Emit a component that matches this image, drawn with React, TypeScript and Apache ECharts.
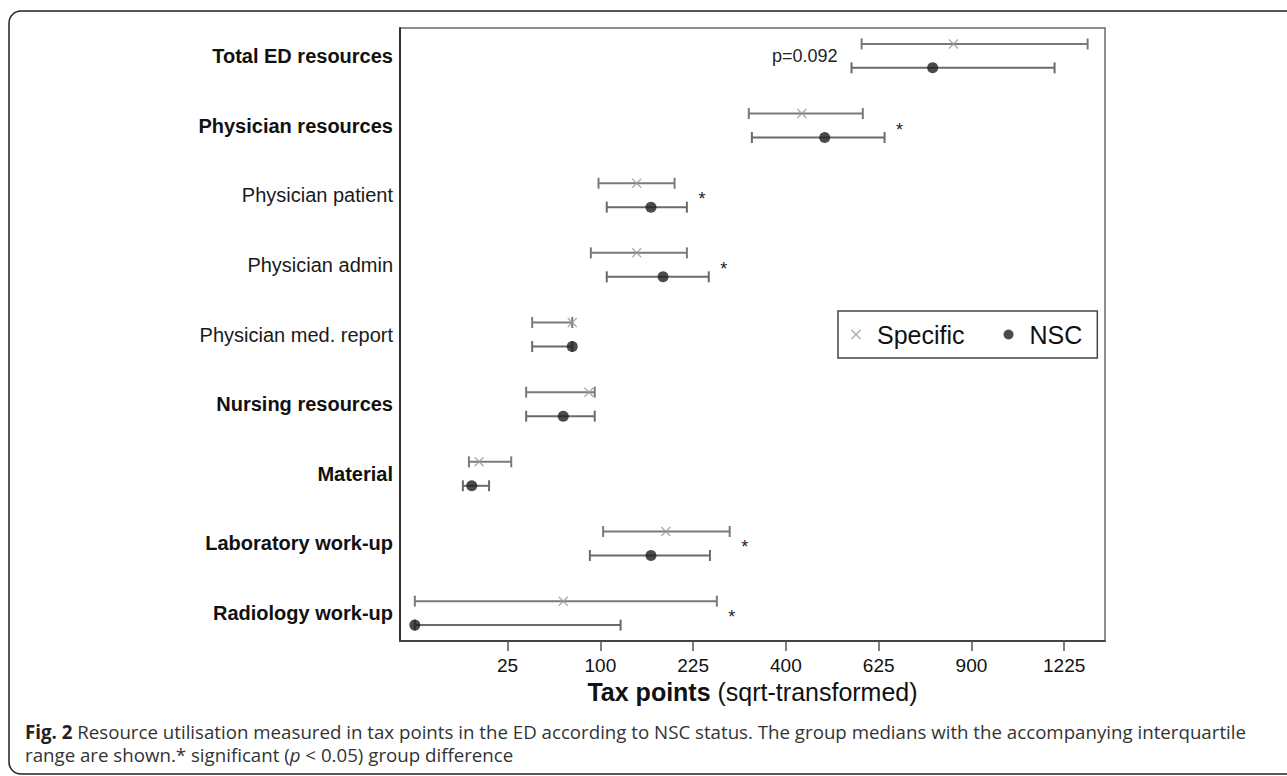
import React, { useEffect, useRef } from 'react';
import * as echarts from 'echarts';

// ---- data (tax points, untransformed) ----
const categories = [
  'Total ED resources',
  'Physician resources',
  'Physician patient',
  'Physician admin',
  'Physician med. report',
  'Nursing resources',
  'Material',
  'Laboratory work-up',
  'Radiology work-up',
];
const boldRows = [true, true, false, false, false, true, true, true, true];

const specificLow = [580, 324, 98, 90, 40, 36, 8.5, 103, 0];
const specificMedian = [843, 435, 143, 143, 72, 88, 12, 183, 64];
const specificHigh = [1315, 583, 196, 215, 72, 94, 27, 288, 265];

const nscLow = [554, 330, 107, 107, 40, 36, 6.7, 89, 0];
const nscMedian = [779, 488, 162, 179, 72, 64, 9.4, 162, 0];
const nscHigh = [1189, 641, 215, 251, 72, 94, 16, 253, 123];

const annotations = ['p=0.092', '*', '*', '*', '', '', '', '*', '*'];

const tickLabels = [25, 100, 225, 400, 625, 900, 1225];

const legendNames = ['Specific', 'NSC'];

const captionLine1 =
  'Resource utilisation measured in tax points in the ED according to NSC status. The group medians with the accompanying interquartile';
const captionLine2a = 'range are shown.* significant (';
const captionLine2b = ' < 0.05) group difference';

// ---- styling ----
const FONT = '"Liberation Sans", Arial, sans-serif';
const CAP_FONT = '"Open Sans", "Noto Sans", sans-serif';
const CAP_SIZE = 18.7;
const CAP_LH = 20;
const ROW_OFFSET = 0.172;
const X_SYMBOL =
  'path://M0,1 L1,0 L5,4 L9,0 L10,1 L6,5 L10,9 L9,10 L5,6 L1,10 L0,9 L4,5 Z';

const sq = (v: number) => Math.sqrt(v);

function barSeries(name: string, lo: number[], hi: number[], off: number, color: string) {
  return {
    type: 'custom',
    name,
    silent: true,
    z: 2,
    encode: { x: [0, 1], y: 2 },
    data: categories.map((_, i) => [sq(lo[i]), sq(hi[i]), i + 1 + off]),
    renderItem: (params: any, api: any) => {
      const a = api.coord([api.value(0), api.value(2)]);
      const b = api.coord([api.value(1), api.value(2)]);
      const h = 5.5;
      const st = { stroke: color, lineWidth: 2 };
      return {
        type: 'group',
        children: [
          { type: 'line', shape: { x1: a[0], y1: a[1], x2: b[0], y2: b[1] }, style: st },
          { type: 'line', shape: { x1: a[0], y1: a[1] - h, x2: a[0], y2: a[1] + h }, style: st },
          { type: 'line', shape: { x1: b[0], y1: b[1] - h, x2: b[0], y2: b[1] + h }, style: st },
        ],
      };
    },
  };
}

export default function App() {
  const ref = useRef<HTMLDivElement>(null);

  useEffect(() => {
    if (!ref.current) return;
    const chart = echarts.init(ref.current, null, { renderer: 'svg' });

    const option: any = {
      animation: false,
      backgroundColor: '#ffffff',
      grid: {
        left: 400,
        right: 182,
        top: 28,
        bottom: 135,
        show: true,
        borderColor: '#6a6a6a',
        borderWidth: 1.5,
        outerBoundsMode: 'none',
      },
      legend: {
        data: legendNames,
        left: 838,
        top: 311,
        orient: 'horizontal',
        padding: [11, 15, 11, 13],
        itemWidth: 32,
        itemHeight: 10,
        itemGap: 39,
        borderColor: '#444',
        borderWidth: 1.5,
        selectedMode: false,
        textStyle: { fontSize: 25, color: '#111', fontFamily: FONT },
      },
      xAxis: {
        type: 'value',
        min: -0.8,
        max: 37.2,
        splitLine: { show: false },
        axisLine: { show: true, onZero: false, lineStyle: { color: '#444', width: 2 } },
        axisTick: {
          show: true,
          customValues: tickLabels.map(sq),
          length: 10,
          lineStyle: { color: '#555', width: 1.5 },
        },
        axisLabel: {
          customValues: tickLabels.map(sq),
          formatter: (v: number) => String(Math.round(v * v)),
          fontSize: 19,
          color: '#111',
          fontFamily: FONT,
          margin: 15,
        },
        name: '{b|Tax points} {n|(sqrt-transformed)}',
        nameLocation: 'middle',
        nameGap: 35,
        nameTextStyle: {
          fontSize: 25,
          color: '#111',
          fontFamily: FONT,
          rich: {
            b: { fontSize: 25, fontWeight: 'bold', fontFamily: FONT, color: '#111' },
            n: { fontSize: 25, fontFamily: FONT, color: '#111' },
          },
        },
      },
      yAxis: {
        type: 'value',
        inverse: true,
        min: 0.6,
        max: 9.4,
        splitLine: { show: false },
        axisLine: { show: true, onZero: false, lineStyle: { color: '#333', width: 2 } },
        axisTick: { show: false },
        axisLabel: {
          customValues: categories.map((_, i) => i + 1),
          formatter: (v: number) => {
            const i = Math.round(v) - 1;
            const name = categories[i] ?? '';
            return boldRows[i] ? `{b|${name}}` : `{n|${name}}`;
          },
          margin: 7,
          fontSize: 20,
          color: '#111',
          fontFamily: FONT,
          rich: {
            b: { fontSize: 20, fontWeight: 'bold', fontFamily: FONT, color: '#111' },
            n: { fontSize: 20, fontFamily: FONT, color: '#1a1a1a' },
          },
        },
      },
      series: [
        barSeries('Specific IQR', specificLow, specificHigh, -ROW_OFFSET, '#7a7a7a'),
        barSeries('NSC IQR', nscLow, nscHigh, ROW_OFFSET, '#6a6a6a'),
        {
          type: 'scatter',
          name: legendNames[0],
          symbol: X_SYMBOL,
          symbolSize: 10,
          z: 4,
          itemStyle: { color: '#9a9a9a' },
          data: categories.map((_, i) => [sq(specificMedian[i]), i + 1 - ROW_OFFSET]),
        },
        {
          type: 'scatter',
          name: legendNames[1],
          symbol: 'circle',
          symbolSize: 11,
          z: 4,
          itemStyle: { color: '#1e1e1e' },
          data: categories.map((_, i) => [sq(nscMedian[i]), i + 1 + ROW_OFFSET]),
        },
        {
          type: 'custom',
          name: 'annotations',
          silent: true,
          z: 5,
          encode: { x: [0, 1], y: 2 },
          data: categories.map((_, i) => [
            sq(Math.min(specificLow[i], nscLow[i])),
            sq(Math.max(specificHigh[i], nscHigh[i])),
            i + 1,
          ]),
          renderItem: (params: any, api: any) => {
            const note = annotations[params.dataIndex];
            if (!note) return { type: 'group', children: [] };
            const y = api.coord([0, api.value(2)])[1];
            if (note === '*') {
              const x = api.coord([api.value(1), 0])[0] + 15;
              return {
                type: 'text',
                x,
                y: y + 4,
                style: {
                  text: '*',
                  fontSize: 18,
                  fontFamily: FONT,
                  fill: '#222',
                  align: 'center',
                  verticalAlign: 'middle',
                },
              };
            }
            const x = api.coord([api.value(0), 0])[0] - 14;
            return {
              type: 'text',
              x,
              y,
              style: {
                text: note,
                fontSize: 18,
                fontFamily: FONT,
                fill: '#222',
                align: 'right',
                verticalAlign: 'middle',
              },
            };
          },
        },
      ],
      graphic: [
        {
          type: 'rect',
          silent: true,
          z: -10,
          shape: { x: 9, y: 11, width: 1300, height: 763, r: 12 },
          style: { fill: 'none', stroke: '#222', lineWidth: 1.5 },
        },
        {
          type: 'text',
          x: 25,
          y: 731,
          style: {
            text: '{b|Fig. 2} ' + captionLine1,
            fontSize: CAP_SIZE,
            lineHeight: CAP_LH,
            fontFamily: CAP_FONT,
            fill: '#333',
            verticalAlign: 'middle',
            rich: {
              b: {
                fontSize: CAP_SIZE,
                lineHeight: CAP_LH,
                fontWeight: 'bold',
                fontFamily: CAP_FONT,
                fill: '#222',
              },
            },
          },
        },
        {
          type: 'text',
          x: 25,
          y: 754,
          style: {
            text: captionLine2a + '{i|p}' + captionLine2b,
            fontSize: CAP_SIZE,
            lineHeight: CAP_LH,
            fontFamily: CAP_FONT,
            fill: '#333',
            verticalAlign: 'middle',
            rich: {
              i: {
                fontSize: CAP_SIZE,
                lineHeight: CAP_LH,
                fontStyle: 'italic',
                fontFamily: CAP_FONT,
                fill: '#333',
              },
            },
          },
        },
      ],
    };

    chart.setOption(option);
    return () => chart.dispose();
  }, []);

  return (
    <div
      ref={ref}
      style={{ position: 'fixed', left: 0, top: 0, width: 1287, height: 776, background: '#fff' }}
    />
  );
}
